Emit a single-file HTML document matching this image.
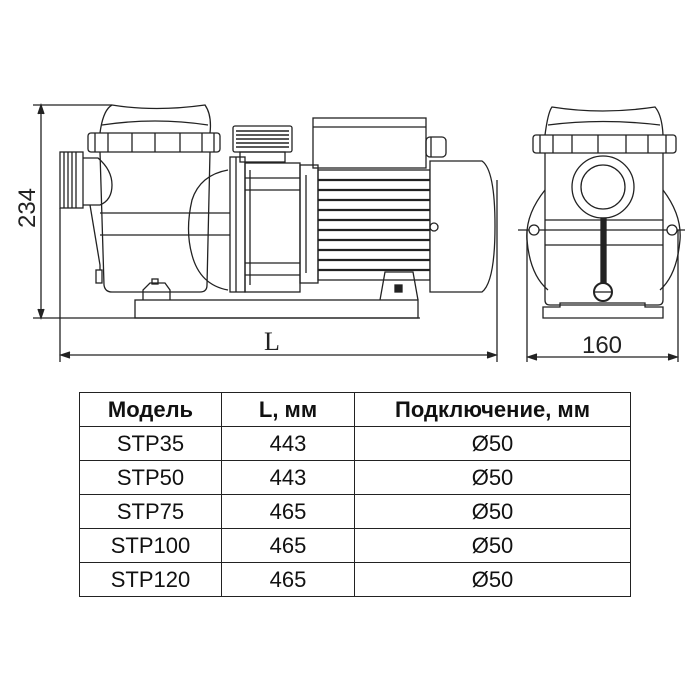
<!DOCTYPE html>
<html><head><meta charset="utf-8"><style>
body{margin:0;background:#fff;width:700px;height:700px;overflow:hidden}
svg{position:absolute;left:0;top:0}
table{position:absolute;left:79px;top:392px;width:552px;height:205px;border-collapse:collapse;font-family:"Liberation Sans",sans-serif;font-size:22px;color:#111}
td{border:1.5px solid #222;text-align:center;padding:0;height:33px;line-height:22px}
tr:first-child td{font-weight:bold}
</style></head><body>
<svg width="700" height="700" viewBox="0 0 700 700" fill="none" stroke="#222" stroke-width="1.3">
<line x1="33" y1="105" x2="112" y2="105"/>
<line x1="33" y1="318" x2="420" y2="318"/>
<line x1="41" y1="108" x2="41" y2="315"/>
<path d="M38,114 L41,105 L44,114 M38,309 L41,318 L44,309" fill="#222"/>
<text x="0" y="0" transform="translate(35,208) rotate(-90)" font-family="Liberation Sans" font-size="24" fill="#222" stroke="none" text-anchor="middle">234</text>
<line x1="60" y1="208" x2="60" y2="362"/>
<line x1="497" y1="180" x2="497" y2="362"/>
<line x1="62" y1="355" x2="495" y2="355"/>
<path d="M70,352 L61,355 L70,358 M487,352 L496,355 L487,358" fill="#222"/>
<text x="272" y="350" font-family="Liberation Serif" font-size="26" fill="#222" stroke="none" text-anchor="middle">L</text>
<rect x="135" y="300" width="283" height="18"/>
<path d="M143,300 L143,290 L150,283 L165,283 L170,290 L170,300"/>
<rect x="152" y="279" width="6" height="5"/>
<path d="M100,133 Q103,110 112,105 Q155,112 205,105 Q212,115 210,133"/>
<path d="M102,125 Q155,117 208,125"/>
<rect x="88" y="133" width="132" height="19" rx="3"/>
<path d="M95,133v19 M108,133v19 M132,133v19 M155,133v19 M180,133v19 M202,133v19 M214,133v19"/>
<path d="M100,152 L104,285 Q105,292 112,292 L200,292 Q207,292 207,285 L210,152"/>
<path d="M83,158 L98,158 Q112,170 112,185 Q112,200 100,205 L83,205"/>
<path d="M90,205 L100,265 L100,270"/>
<rect x="96" y="270" width="6" height="13"/>
<line x1="100" y1="213" x2="230" y2="213"/><line x1="100" y1="235" x2="230" y2="235"/>
<rect x="60" y="152" width="23" height="56"/>
<path d="M64,152v56 M68,152v56 M72,152v56 M76,152v56"/>
<path d="M228,170 Q200,175 192,200 Q185,230 192,255 Q200,285 228,290"/>
<rect x="230" y="157" width="15" height="135"/>
<line x1="236" y1="157" x2="236" y2="292"/>
<rect x="245" y="163" width="55" height="129"/>
<line x1="250" y1="170" x2="250" y2="285"/>
<line x1="245" y1="178" x2="300" y2="178"/><line x1="245" y1="190" x2="300" y2="190"/>
<line x1="245" y1="263" x2="300" y2="263"/><line x1="245" y1="275" x2="300" y2="275"/>
<rect x="300" y="165" width="18" height="118"/>
<line x1="306" y1="175" x2="306" y2="273"/>
<rect x="233" y="126" width="59" height="26" rx="2"/>
<path d="M236,131h53 M236,135h53 M236,139h53 M236,143h53 M236,147h53" stroke-width="1.6"/>
<rect x="240" y="152" width="45" height="10"/>
<rect x="313" y="118" width="113" height="50"/>
<line x1="313" y1="127" x2="426" y2="127"/>
<rect x="426" y="137" width="20" height="20" rx="4"/>
<line x1="431" y1="137" x2="431" y2="157"/>
<rect x="318" y="170" width="112" height="110"/>
<path d="M318,180h112 M318,190h112 M318,200h112 M318,210h112 M318,220h112 M318,230h112 M318,240h112 M318,250h112 M318,260h112 M318,270h112" stroke-width="2.2"/>
<path d="M430,161 L482,161 Q495,170 495,226 Q495,282 482,292 L430,292 Z" fill="#fff"/>
<circle cx="434" cy="227" r="4"/>
<path d="M380,300 L385,272 L413,272 L418,300"/>
<rect x="395" y="285" width="7" height="7" fill="#222"/>
<line x1="527" y1="230" x2="527" y2="362"/>
<line x1="678" y1="230" x2="678" y2="362"/>
<line x1="529" y1="357" x2="676" y2="357"/>
<path d="M537,354 L528,357 L537,360 M668,354 L677,357 L668,360" fill="#222"/>
<text x="602" y="353" font-family="Liberation Sans" font-size="24" fill="#222" stroke="none" text-anchor="middle">160</text>
<path d="M545,190 Q525,215 527,240 Q530,275 548,290"/>
<path d="M663,190 Q682,215 680,240 Q677,275 660,290"/>
<path d="M545,135 Q548,112 552,107 Q602,115 655,107 Q662,115 663,135"/>
<path d="M548,125 Q602,118 660,125"/>
<rect x="533" y="135" width="143" height="18" rx="3"/>
<path d="M540,135v18 M553,135v18 M572,135v18 M598,135v18 M626,135v18 M648,135v18 M666,135v18"/>
<path d="M545,153 L545,300 Q545,305 550,305 L658,305 Q663,305 663,300 L663,153"/>
<line x1="545" y1="220" x2="663" y2="220"/><line x1="545" y1="245" x2="663" y2="245"/>
<circle cx="603" cy="187" r="31" fill="#fff"/><circle cx="603" cy="187" r="22"/>
<line x1="518" y1="230" x2="685" y2="230"/>
<circle cx="534" cy="230" r="5" fill="#fff"/><circle cx="672" cy="230" r="5" fill="#fff"/>
<rect x="601" y="218" width="5" height="68" fill="#222"/>
<circle cx="603" cy="292" r="9" fill="#fff" stroke-width="2"/>
<line x1="595" y1="292" x2="611" y2="292"/>
<path d="M543,318 L543,307 L560,307 L560,303 L645,303 L645,307 L663,307 L663,318 Z"/>
</svg>
<table>
<tr><td style="width:141px">Модель</td><td style="width:132px">L, мм</td><td>Подключение, мм</td></tr>
<tr><td>STP35</td><td>443</td><td>Ø50</td></tr>
<tr><td>STP50</td><td>443</td><td>Ø50</td></tr>
<tr><td>STP75</td><td>465</td><td>Ø50</td></tr>
<tr><td>STP100</td><td>465</td><td>Ø50</td></tr>
<tr><td>STP120</td><td>465</td><td>Ø50</td></tr>
</table>
</body></html>
